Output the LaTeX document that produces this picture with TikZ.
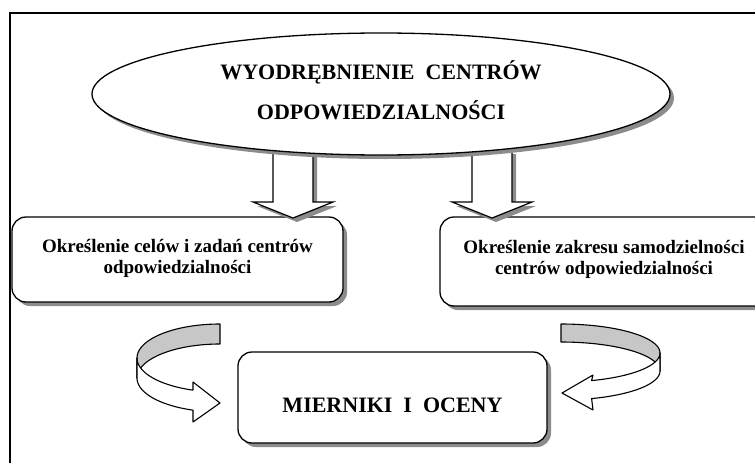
\documentclass[tikz,border=0pt]{standalone}
\usepackage{fontspec}
\setmainfont{Liberation Serif}
\usetikzlibrary{shapes.geometric,shadows,positioning}
\tikzset{
    cien/.style={drop shadow={shadow xshift=4pt,shadow yshift=-4pt,fill=black!45,opacity=1}},
    ramka/.style={draw,line width=1.3pt,rounded corners=14pt,fill=white,inner sep=0pt,cien},
    elipsa/.style={ellipse,draw,line width=1.3pt,fill=white,inner sep=0pt,cien},
    strzala/.style={draw,line width=1.2pt,fill=white,line join=miter,cien},
    wstega/.style={draw,line width=1.1pt,line join=round},
    napis/.style={inner sep=0pt,align=center,font=\fontsize{19}{21}\selectfont\bfseries},
    duzy/.style={inner sep=0pt,align=center,font=\fontsize{22}{40}\selectfont\bfseries}
}
\begin{document}
\begin{tikzpicture}[x=1pt,y=-1pt]
        \clip (0,0) rectangle (755,463);
        \draw[line width=1.2pt] (10,13) rectangle (800,500);
        %prostokaty
        \node[ramka,minimum width=331pt,minimum height=85pt] (cele) at (177.5,259.5) {};
        \node[ramka,minimum width=332pt,minimum height=89pt] (zakres) at (606,261.5) {};
        \node[ramka,minimum width=309pt,minimum height=91pt] (mierniki) at (392.5,397.5) {};
        %strzalki w dol
        \draw[strzala] (273,150)--++(40,0)--++(0,52)--++(20,0)--++(-40,16)--++(-40,-16)--++(20,0)--cycle;
        \draw[strzala] (472,150)--++(40,0)--++(0,52)--++(20,0)--++(-40,16)--++(-40,-16)--++(20,0)--cycle;
        \node[elipsa,minimum width=578pt,minimum height=122pt] (centra) at (381,94) {};
        %wstega lewa
        \draw[wstega,fill=black!22] plot[domain=270:180,samples=40] ({220+83*cos(\x)},{358+34*sin(\x)})
        -- plot[domain=180:270,samples=40] ({220+83*cos(\x)},{378+34*sin(\x)}) -- cycle;
        \draw[wstega,fill=white] plot[domain=180:109,samples=40] ({220+83*cos(\x)},{358+34*sin(\x)})
        -- (193,382) -- (220,403) -- (193,422)
        -- plot[domain=109:180,samples=40] ({220+83*cos(\x)},{378+34*sin(\x)}) -- cycle;
        %wstega prawa
        \draw[wstega,fill=black!22] plot[domain=270:360,samples=40] ({561+99*cos(\x)},{353+29*sin(\x)})
        -- plot[domain=360:270,samples=40] ({561+99*cos(\x)},{371+29*sin(\x)}) -- cycle;
        \draw[wstega,fill=white] plot[domain=0:72,samples=40] ({561+99*cos(\x)},{353+29*sin(\x)})
        -- (593,375) -- (562,393) -- (593,410)
        -- plot[domain=72:0,samples=40] ({561+99*cos(\x)},{371+29*sin(\x)}) -- cycle;
        %teksty
        \node[duzy] (centrat) at (381,90) {WYODRĘBNIENIE~~CENTRÓW\\ODPOWIEDZIALNOŚCI};
        \node[napis] (celet) at (177.5,258) {Określenie celów i zadań centrów\\odpowiedzialności};
        \node[napis] (zakrest) at (604,259) {Określenie zakresu samodzielności\\centrów odpowiedzialności};
        \node[duzy] (miernikit) at (392.5,405.5) {MIERNIKI~~I~~OCENY};
\end{tikzpicture}
\end{document}
